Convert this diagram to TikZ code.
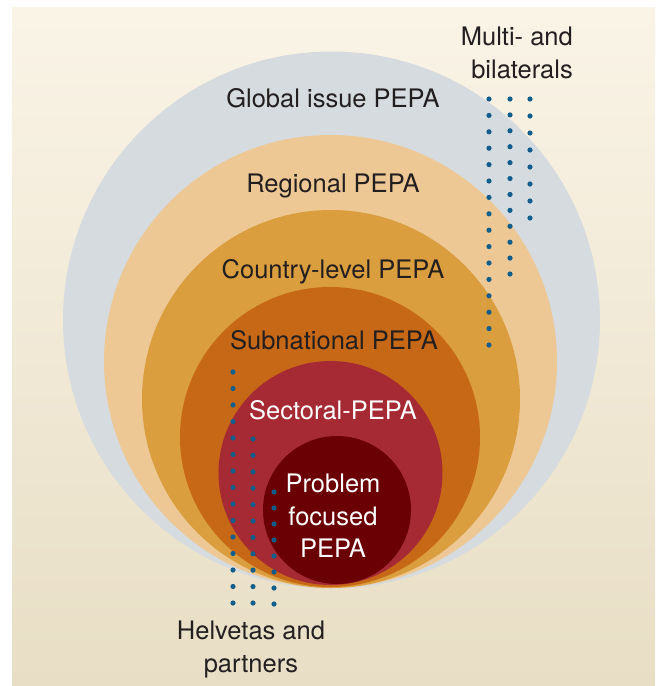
\documentclass[tikz,border=0pt]{standalone}
\usepackage{fontspec}
\setmainfont{TeX Gyre Heros}
\definecolor{bgtop}{HTML}{FAF4E7}
\definecolor{bgbot}{HTML}{E8DEC5}
\definecolor{globalc}{HTML}{D5DBDE}
\definecolor{regionc}{HTML}{EDC895}
\definecolor{countryc}{HTML}{DA9E3E}
\definecolor{subnatc}{HTML}{C66816}
\definecolor{sectorc}{HTML}{A52A33}
\definecolor{problemc}{HTML}{6B0004}
\definecolor{dotblue}{HTML}{115D8C}
\definecolor{ink}{HTML}{231F20}
% one column of dots: x, first y, last y, number of dots
\newcommand{\dotcol}[4]{\foreach \k in {1,...,#4}
 	\fill[dotblue] (#1,{#2+(#3-#2)*(\k-1)/(#4-1)}) circle (2.6pt)}

\begin{document}
\begin{tikzpicture}[x=1pt,y=-1pt,
	lbl/.style={font=\fontsize{25.5}{32.5}\selectfont,text=ink,inner sep=0pt},
	wlbl/.style={lbl,text=white}]
	\useasboundingbox (0,0) rectangle (661,686);
	\shade[top color=bgtop,bottom color=bgbot] (12,7) rectangle (655,686);
		\fill[globalc] (331.5,320) circle (268.5pt);
		\fill[regionc] (330.5,361.5) circle (226.5pt);
		\fill[countryc] (331,399) circle (189pt);
		\fill[subnatc] (330,437) circle (150pt);
		\fill[sectorc] (330.5,473) circle (112pt);
		\fill[problemc] (337,510) circle (74pt);
			\dotcol{489}{99}{345}{16};
			\dotcol{510}{99}{274}{12};
			\dotcol{530}{99}{218}{8};
			\dotcol{233}{372}{603}{15};
			\dotcol{253}{439}{603}{11};
			\dotcol{274}{492}{604}{8};
	\node[lbl,anchor=base] (global) at (333,107) {Global issue PEPA};
	\node[lbl,anchor=base] (regional) at (333,192) {Regional PEPA};
	\node[lbl,anchor=base] (country) at (333,278) {Country-level PEPA};
	\node[lbl,anchor=base] (subnat) at (334,349) {Subnational PEPA};
	\node[wlbl,anchor=base] (sectoral) at (333,419) {Sectoral-PEPA};
	\node[wlbl,align=center,anchor=north] (problem) at (333,474) {Problem\\focused\\PEPA};
	\node[lbl,align=right,anchor=north east] (multi) at (573,27) {Multi- and\\bilaterals};
	\node[lbl,align=center,anchor=north] (helvetas) at (251,621) {Helvetas and\\partners};
\end{tikzpicture}
\end{document}
